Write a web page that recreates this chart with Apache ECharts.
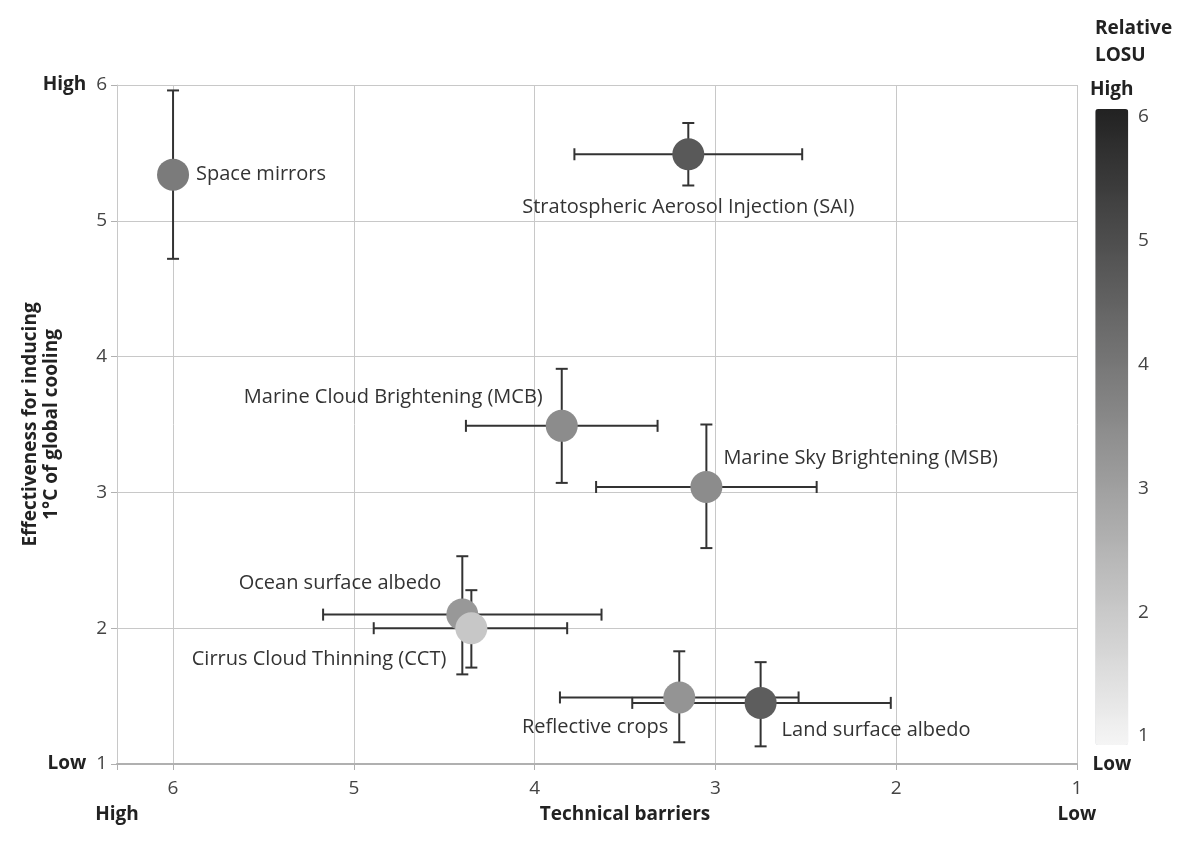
<!DOCTYPE html>
<html>
<head>
<meta charset="utf-8">
<script src="https://cdn.jsdelivr.net/npm/echarts@6/dist/echarts.min.js"></script>
<style>
html,body{margin:0;padding:0;background:#fff;}
#chart{width:1200px;height:845px;}
</style>
</head>
<body>
<div id="chart"></div>
<script>
// ---- data ----
const names = ['Space mirrors','Stratospheric Aerosol Injection (SAI)','Marine Cloud Brightening (MCB)','Marine Sky Brightening (MSB)','Ocean surface albedo','Cirrus Cloud Thinning (CCT)','Reflective crops','Land surface albedo'];
const barriers      = [6.00, 3.15, 3.85, 3.05, 4.40, 4.35, 3.20, 2.75];
const effectiveness = [5.34, 5.49, 3.49, 3.04, 2.10, 2.00, 1.49, 1.45];
const losu          = [3.9, 4.7, 3.5, 3.5, 3.2, 2.1, 3.3, 4.6];
const barrierHighEnd = [6.00, 3.78, 4.38, 3.66, 5.17, 4.89, 3.86, 3.46];
const barrierLowEnd  = [6.00, 2.52, 3.32, 2.44, 3.63, 3.82, 2.54, 2.03];
const effLowEnd      = [4.72, 5.26, 3.07, 2.59, 1.66, 1.71, 1.16, 1.13];
const effHighEnd     = [5.96, 5.72, 3.91, 3.50, 2.53, 2.28, 1.83, 1.75];
const xTicks = [1, 2, 3, 4, 5, 6];
const yTicks = [1, 2, 3, 4, 5, 6];
const losuTicks = [1, 2, 3, 4, 5, 6];

// ---- label layout (style, not data) ----
const labelLayout = {
  'Space mirrors': {align:'left', offset:[23, 0]},
  'Stratospheric Aerosol Injection (SAI)': {align:'center', offset:[0, 53]},
  'Marine Cloud Brightening (MCB)': {align:'right', offset:[-19, -29]},
  'Marine Sky Brightening (MSB)': {align:'left', offset:[17, -29]},
  'Ocean surface albedo': {align:'right', offset:[-21, -31]},
  'Cirrus Cloud Thinning (CCT)': {align:'right', offset:[-25, 31]},
  'Reflective crops': {align:'right', offset:[-11, 30]},
  'Land surface albedo': {align:'left', offset:[21, 27]}
};

const FONT = 'Open Sans';
const BOLD = 19;
const chart = echarts.init(document.getElementById('chart'));

const pointData = names.map((n, i) => ({
  name: n,
  value: [barriers[i], effectiveness[i], losu[i]],
  label: {
    show: true,
    position: 'inside',
    formatter: '{b}',
    align: labelLayout[n].align,
    verticalAlign: 'middle',
    offset: labelLayout[n].offset,
    color: '#333',
    fontSize: 20,
    fontFamily: FONT
  }
}));

const errData = names.map((n, i) => [barriers[i], effectiveness[i], barrierHighEnd[i], barrierLowEnd[i], effLowEnd[i], effHighEnd[i]]);

function renderErr(params, api) {
  const x = api.value(0), y = api.value(1);
  const xa = api.value(2), xb = api.value(3), ya = api.value(4), yb = api.value(5);
  const cap = 6;
  const st = {stroke: '#333', lineWidth: 2};
  const ch = [];
  if (xa !== xb) {
    const p1 = api.coord([xa, y]), p2 = api.coord([xb, y]);
    ch.push({type:'line', shape:{x1:p1[0], y1:p1[1], x2:p2[0], y2:p2[1]}, style:st});
    ch.push({type:'line', shape:{x1:p1[0], y1:p1[1]-cap, x2:p1[0], y2:p1[1]+cap}, style:st});
    ch.push({type:'line', shape:{x1:p2[0], y1:p2[1]-cap, x2:p2[0], y2:p2[1]+cap}, style:st});
  }
  if (ya !== yb) {
    const p1 = api.coord([x, ya]), p2 = api.coord([x, yb]);
    ch.push({type:'line', shape:{x1:p1[0], y1:p1[1], x2:p2[0], y2:p2[1]}, style:st});
    ch.push({type:'line', shape:{x1:p1[0]-cap, y1:p1[1], x2:p1[0]+cap, y2:p1[1]}, style:st});
    ch.push({type:'line', shape:{x1:p2[0]-cap, y1:p2[1], x2:p2[0]+cap, y2:p2[1]}, style:st});
  }
  return {type:'group', children: ch};
}

function gText(text, x, y, align) {
  return {type: 'text', x: x, y: y, style: {text: text, fontFamily: FONT, fontWeight: 'bold', fontSize: BOLD, fill: '#222',
    align: align, textAlign: align, verticalAlign: 'middle', textVerticalAlign: 'middle', lineHeight: 27}};
}

const option = {
  animation: false,
  backgroundColor: '#fff',
  textStyle: {fontFamily: FONT},
  grid: [
    {left: 117, right: 123, top: 85, bottom: 81, outerBoundsMode: 'none', containLabel: false},
    {left: 1095, width: 33, top: 117, height: 619, outerBoundsMode: 'none', containLabel: false}
  ],
  xAxis: [
    {
      type: 'value', gridIndex: 0, inverse: true, min: 1, max: 6.31, interval: 1,
      axisLine: {show: true, lineStyle: {color: '#b0b0b0', width: 2}},
      axisTick: {show: true, length: 6, lineStyle: {color: '#b0b0b0'}},
      axisLabel: {
        margin: 15, fontSize: 19, color: '#444', fontFamily: FONT,
        formatter: v => xTicks.includes(v) ? String(v) : ''
      },
      splitLine: {show: true, lineStyle: {color: '#c8c8c8', width: 1}}
    },
    {type: 'value', gridIndex: 1, show: false, min: 0, max: 1}
  ],
  yAxis: [
    {
      type: 'value', gridIndex: 0, min: 1, max: 6, interval: 1,
      name: 'Effectiveness for inducing\n1°C of global cooling',
      nameLocation: 'middle', nameRotate: 90, nameGap: 55, nameMoveOverlap: false,
      nameTextStyle: {fontFamily: FONT, fontWeight: 'bold', fontSize: BOLD, color: '#222', lineHeight: 21},
      axisLine: {show: true, lineStyle: {color: '#c8c8c8', width: 1}},
      axisTick: {show: true, length: 6, lineStyle: {color: '#b0b0b0'}},
      axisLabel: {
        margin: 10, fontSize: 19, color: '#444', fontFamily: FONT,
        formatter: v => {
          if (!yTicks.includes(v)) return '';
          if (v === 6) return '{h|High}  ' + v;
          if (v === 1) return '{h|Low}  ' + v;
          return String(v);
        },
        rich: {h: {fontFamily: FONT, fontWeight: 'bold', fontSize: BOLD, color: '#222'}}
      },
      splitLine: {show: true, lineStyle: {color: '#c8c8c8', width: 1}}
    },
    {
      type: 'value', gridIndex: 1, min: 1, max: 6, interval: 1, position: 'right',
      axisLine: {show: false}, axisTick: {show: false}, splitLine: {show: false},
      axisLabel: {margin: 10, fontSize: 19, color: '#444', fontFamily: FONT,
        formatter: v => losuTicks.includes(v) ? String(v) : ''}
    }
  ],
  visualMap: {
    type: 'continuous',
    seriesIndex: 1,
    dimension: 2,
    min: 1, max: 6,
    calculable: false,
    orient: 'vertical',
    left: 1075, top: 65,
    itemWidth: 33, itemHeight: 636,
    text: ['High', 'Low'],
    textGap: 10,
    textStyle: {fontFamily: FONT, fontWeight: 'bold', fontSize: BOLD, color: '#222'},
    inRange: {color: ['#f5f5f5', '#222222']}
  },
  graphic: [
    {type: 'text', left: 1095, top: 15, style: {text: 'Relative\nLOSU', fontFamily: FONT, fontWeight: 'bold', fontSize: BOLD, fill: '#222', lineHeight: 27}},
    gText('High', 117, 815, 'center'),
    gText('Technical barriers', 625, 815, 'center'),
    gText('Low', 1077, 815, 'center')
  ],
  series: [
    {
      type: 'custom', xAxisIndex: 0, yAxisIndex: 0,
      renderItem: renderErr, data: errData, encode: {x: 0, y: 1}, silent: true, z: 2
    },
    {
      type: 'scatter', xAxisIndex: 0, yAxisIndex: 0,
      symbolSize: 32, data: pointData, z: 3,
      itemStyle: {opacity: 1}
    }
  ]
};
chart.setOption(option);
</script>
</body>
</html>
